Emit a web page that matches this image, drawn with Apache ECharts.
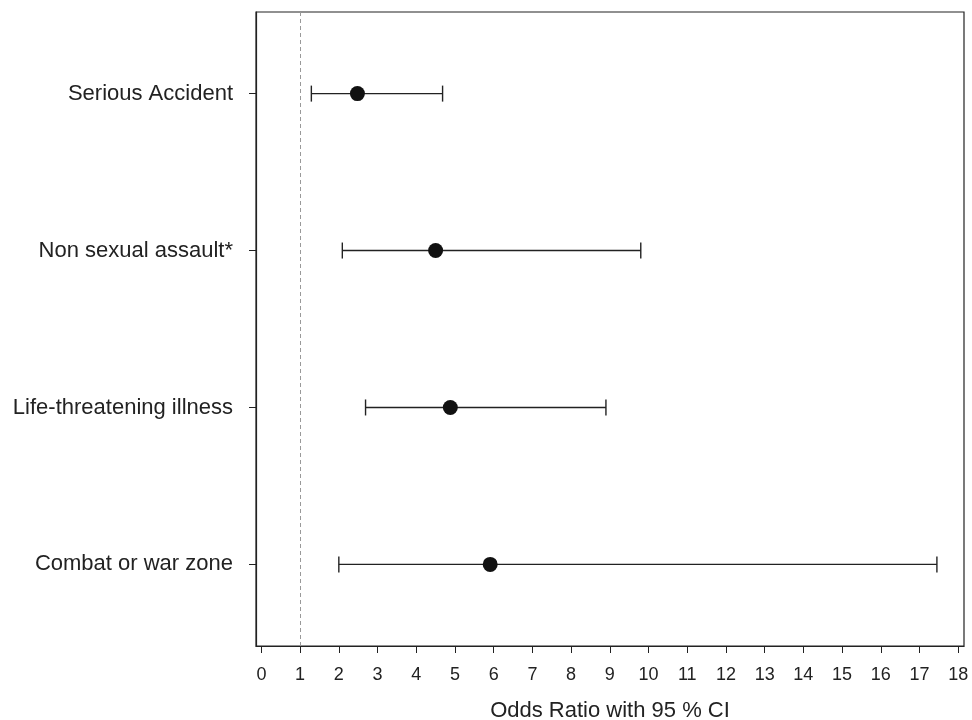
<!DOCTYPE html>
<html>
<head>
<meta charset="utf-8">
<script src="https://cdn.jsdelivr.net/npm/echarts@6/dist/echarts.min.js"></script>
<style>html,body{margin:0;padding:0;background:#fff}#c{width:972px;height:720px}</style>
</head>
<body>
<div id="c"></div>
<script>
var categories = ['Combat or war zone', 'Life-threatening illness', 'Non sexual assault*', 'Serious Accident'];
var oddsRatio = [5.91, 4.88, 4.50, 2.48];
var ciLow = [2.00, 2.69, 2.09, 1.29];
var ciHigh = [17.45, 8.90, 9.80, 4.68];
var xTicks = [0,1,2,3,4,5,6,7,8,9,10,11,12,13,14,15,16,17,18];
var yPositions = [1, 2, 3, 4];
var refLine = 1;

var chart = echarts.init(document.getElementById('c'), null, {renderer: 'canvas'});
var font = 'Liberation Sans, Arial, Helvetica, sans-serif';

var barData = categories.map(function (c, i) { return [yPositions[i], ciLow[i], ciHigh[i]]; });
var pointData = categories.map(function (c, i) { return [oddsRatio[i], yPositions[i]]; });

chart.setOption({
  animation: false,
  backgroundColor: '#fff',
  grid: {left: 256, right: 8, top: 12, bottom: 74, show: true, borderColor: '#222', borderWidth: 1.2,
    containLabel: false, outerBoundsMode: 'none'},
  xAxis: {
    type: 'value', min: -0.14, max: 18.15,
    name: 'Odds Ratio with 95 % CI', nameLocation: 'middle', nameGap: 54,
    nameTextStyle: {fontFamily: font, fontSize: 22, color: '#222'},
    axisLine: {show: true, onZero: false, lineStyle: {color: '#222', width: 1.2}},
    axisTick: {show: true, length: 7, lineStyle: {color: '#222'}, customValues: xTicks},
    axisLabel: {fontFamily: font, fontSize: 18, color: '#222', margin: 20, customValues: xTicks},
    splitLine: {show: false}
  },
  yAxis: {
    type: 'value', min: 0.48, max: 4.52,
    axisLine: {show: true, onZero: false, lineStyle: {color: '#222', width: 1.2}},
    axisTick: {show: true, length: 7, lineStyle: {color: '#222'}, customValues: yPositions},
    axisLabel: {fontFamily: font, fontSize: 22, color: '#222', margin: 23, customValues: yPositions,
      formatter: function (v) { var i = yPositions.indexOf(v); return i >= 0 ? categories[i] : ''; }},
    splitLine: {show: false}
  },
  series: [
    {
      type: 'line', data: [], silent: true,
      markLine: {symbol: 'none', silent: true, label: {show: false},
        lineStyle: {type: [4, 3], color: '#999', width: 1},
        data: [{xAxis: refLine}]}
    },
    {
      type: 'custom', data: barData,
      renderItem: function (params, api) {
        var y = api.value(0);
        var p1 = api.coord([api.value(1), y]);
        var p2 = api.coord([api.value(2), y]);
        var cap = 8;
        var st = {stroke: '#222', lineWidth: 1.4};
        return {type: 'group', children: [
          {type: 'line', shape: {x1: p1[0], y1: p1[1], x2: p2[0], y2: p2[1]}, style: st},
          {type: 'line', shape: {x1: p1[0], y1: p1[1] - cap, x2: p1[0], y2: p1[1] + cap}, style: st},
          {type: 'line', shape: {x1: p2[0], y1: p2[1] - cap, x2: p2[0], y2: p2[1] + cap}, style: st}
        ]};
      },
      encode: {x: [1, 2], y: 0},
      z: 2
    },
    {
      type: 'scatter', data: pointData, symbol: 'circle', symbolSize: 15,
      itemStyle: {color: '#111', opacity: 1}, z: 3
    }
  ]
});
</script>
</body>
</html>
